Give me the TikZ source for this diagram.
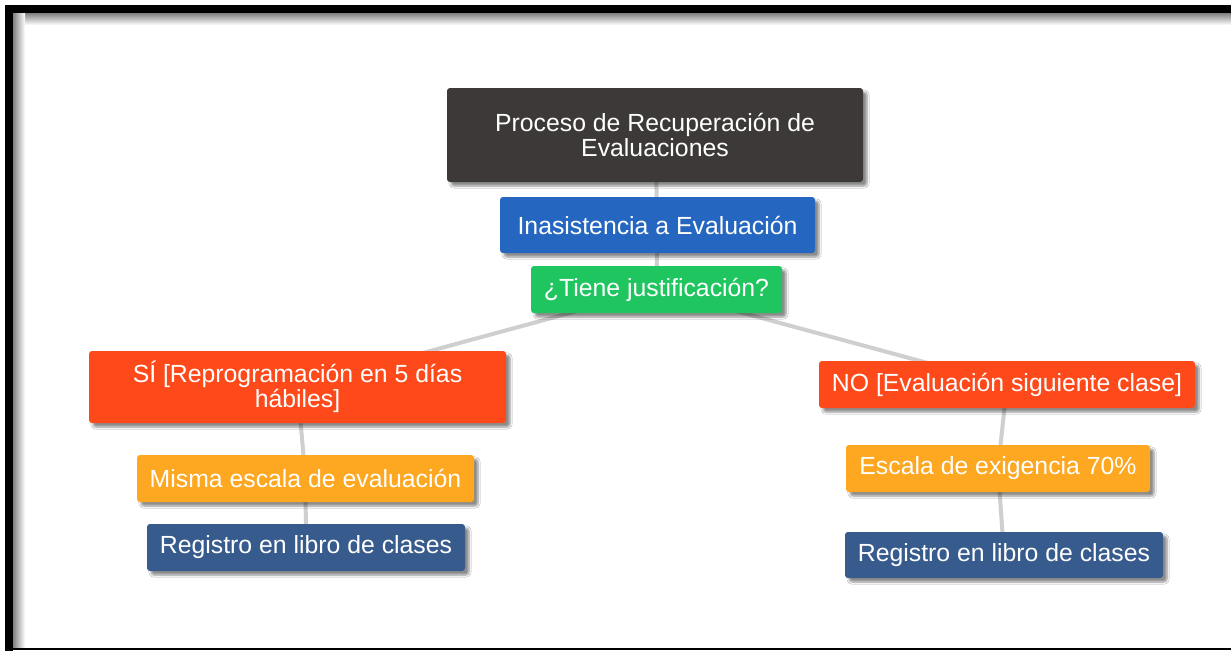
\documentclass[tikz,border=0pt]{standalone}
\usepackage{fontspec}
\setmainfont{Liberation Sans}
\usetikzlibrary{shadows.blur,backgrounds}
\definecolor{ctitle}{HTML}{3D3938}
\definecolor{cblue}{HTML}{2566C0}
\definecolor{cgreen}{HTML}{1FC55E}
\definecolor{cred}{HTML}{FE4A1A}
\definecolor{corange}{HTML}{FEA720}
\definecolor{csteel}{HTML}{375B8D}
\definecolor{cline}{HTML}{CFCFCF}
\tikzset{
  box/.style={rectangle, rounded corners=3pt, inner sep=0pt, text=white, align=center,
    font=\fontsize{24.8}{25.5}\selectfont,
    blur shadow={shadow xshift=4pt, shadow yshift=-4pt, shadow blur steps=6, shadow opacity=45}},
  conn/.style={draw=cline, line width=4pt}
}
\begin{document}
\begin{tikzpicture}[x=1pt,y=-1pt]
\useasboundingbox (0,0) rectangle (1231,651);
% nodes
\node[box, fill=ctitle, minimum width=416pt, minimum height=94pt] (title) at (655,135) {Proceso de Recuperación de\\Evaluaciones};
\node[box, fill=cblue, minimum width=315pt, minimum height=56pt] (ina) at (657.5,225) {Inasistencia a Evaluación};
\node[box, fill=cgreen, minimum width=251pt, minimum height=47pt] (tiene) at (656.5,289.5) {¿Tiene justificación?};
\node[box, fill=cred, minimum width=417pt, minimum height=72pt] (si) at (297.5,387) {SÍ [Reprogramación en 5 días\\hábiles]};
\node[box, fill=cred, minimum width=376pt, minimum height=47pt] (no) at (1007,384.5) {NO [Evaluación siguiente clase]};
\node[box, fill=corange, minimum width=337pt, minimum height=47pt] (misma) at (305.5,478.5) {Misma escala de evaluación};
\node[box, fill=csteel, minimum width=318pt, minimum height=47pt] (regl) at (306,547.5) {Registro en libro de clases};
\node[box, fill=corange, minimum width=304pt, minimum height=47pt] (escala) at (998,468.5) {Escala de exigencia 70\%};
\node[box, fill=csteel, minimum width=318pt, minimum height=46pt] (regr) at (1004,555) {Registro en libro de clases};
% background: page, frame, connectors
\begin{scope}[on background layer]
\fill[white] (0,0) rectangle (1231,651);
\shade[top color=black!50, bottom color=white] (13,13) rectangle (1231,25);
\shade[left color=black!50, right color=white] (13,13) rectangle (25,647);
\fill[black] (5,5) rectangle (1231,13);
\fill[black] (5,5) rectangle (13,651);
\fill[black] (13,647.5) rectangle (1231,650);
\draw[conn] (title.center) -- (ina.center);
\draw[conn] (ina.center) -- (tiene.center);
\draw[conn] (tiene.center) -- (si.center);
\draw[conn] (tiene.center) -- (no.center);
\draw[conn] (si.center) -- (misma.center);
\draw[conn] (misma.center) -- (regl.center);
\draw[conn] (no.center) -- (escala.center);
\draw[conn] (escala.center) -- (regr.center);
\end{scope}
\end{tikzpicture}
\end{document}
